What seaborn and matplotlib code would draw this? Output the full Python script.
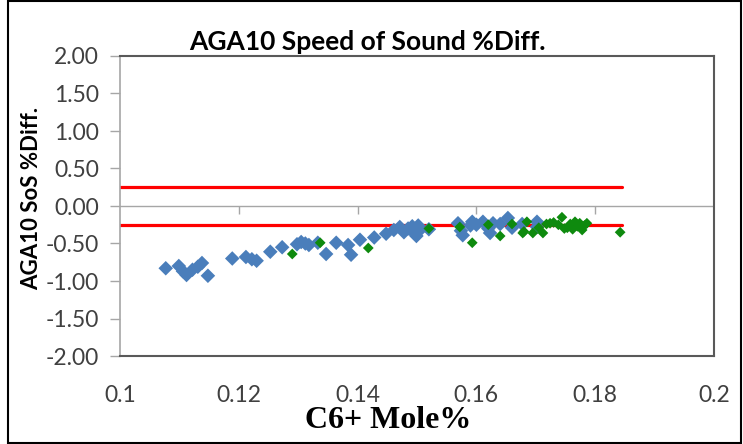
import matplotlib
matplotlib.use("Agg")
import matplotlib.pyplot as plt
from matplotlib.patches import Rectangle
import seaborn as sns
import pandas as pd

# ---------------- data ----------------
blue_x = [0.1077, 0.1099, 0.1106, 0.1112, 0.1122, 0.1131, 0.1138, 0.1148,
          0.1189, 0.1212, 0.1222, 0.1230, 0.1253, 0.1273, 0.1298, 0.1305,
          0.1312, 0.1318, 0.1333, 0.1347, 0.1364, 0.1384, 0.1389, 0.1404,
          0.1428, 0.1448, 0.1461, 0.1471, 0.1478, 0.1485, 0.1492, 0.1495,
          0.1499, 0.1505, 0.1502, 0.1520, 0.1569, 0.1577, 0.1574, 0.1593,
          0.1590, 0.1600, 0.1611, 0.1623, 0.1628, 0.1620, 0.1640, 0.1653,
          0.1660, 0.1677, 0.1702, 0.1702]
blue_y = [-0.83, -0.80, -0.87, -0.92, -0.85, -0.81, -0.76, -0.93,
          -0.70, -0.68, -0.71, -0.73, -0.61, -0.55, -0.51, -0.48,
          -0.50, -0.52, -0.49, -0.64, -0.49, -0.52, -0.65, -0.45,
          -0.42, -0.37, -0.32, -0.28, -0.35, -0.30, -0.27, -0.36,
          -0.40, -0.32, -0.26, -0.31, -0.23, -0.39, -0.33, -0.21,
          -0.26, -0.25, -0.21, -0.36, -0.23, -0.30, -0.24, -0.16,
          -0.29, -0.24, -0.21, -0.28]

green_x = [0.1290, 0.1337, 0.1418, 0.1520, 0.1572, 0.1593, 0.1620, 0.1640,
           0.1660, 0.1678, 0.1685, 0.1680, 0.1695, 0.1705, 0.1712, 0.1718,
           0.1724, 0.1730, 0.1738, 0.1744, 0.1748, 0.1753, 0.1758, 0.1762,
           0.1766, 0.1770, 0.1774, 0.1778, 0.1782, 0.1786, 0.1842]
green_y = [-0.64, -0.49, -0.56, -0.30, -0.28, -0.49, -0.25, -0.40,
           -0.24, -0.36, -0.21, -0.34, -0.36, -0.29, -0.36, -0.24,
           -0.23, -0.22, -0.25, -0.15, -0.30, -0.29, -0.24, -0.31,
           -0.21, -0.27, -0.23, -0.32, -0.26, -0.23, -0.35]

limit_x = [0.1, 0.1845]
upper_limit = [0.25, 0.25]
lower_limit = [-0.25, -0.25]

x_ticks = [0.1, 0.12, 0.14, 0.16, 0.18, 0.2]
x_tick_labels = ["0.1", "0.12", "0.14", "0.16", "0.18", "0.2"]
y_ticks = [2.0, 1.5, 1.0, 0.5, 0.0, -0.5, -1.0, -1.5, -2.0]
y_tick_labels = ["2.00", "1.50", "1.00", "0.50", "0.00", "-0.50", "-1.00", "-1.50", "-2.00"]

title = "AGA10 Speed of Sound %Diff."
x_label = "C6+ Mole%"
y_label = "AGA10 SoS %Diff."

# ---------------- plot ----------------
sns.set_theme(style="white")
plt.rcParams['font.family'] = ['Lato', 'DejaVu Sans']

fig = plt.figure(figsize=(7.43, 4.44), dpi=100)
ax = fig.add_axes([120 / 743, 1 - 356 / 444, 594 / 743, 300 / 444])

df_blue = pd.DataFrame({"x": blue_x, "y": blue_y})
df_green = pd.DataFrame({"x": green_x, "y": green_y})

ax.plot(limit_x, upper_limit, color="#FF0000", lw=2.3, zorder=2)
ax.plot(limit_x, lower_limit, color="#FF0000", lw=2.3, zorder=2)

sns.scatterplot(data=df_blue, x="x", y="y", marker="D", s=55, color="#4A7EBB",
                edgecolor="none", ax=ax, zorder=3)
sns.scatterplot(data=df_green, x="x", y="y", marker="D", s=30, color="#0E8A0E",
                edgecolor="none", ax=ax, zorder=4)

ax.set_xlim(0.1, 0.2)
ax.set_ylim(-2.0, 2.0)

# horizontal axis at y = 0 with downward tick marks
ax.axhline(0, color="#A6A6A6", lw=1.0, zorder=1)
ax.vlines(x_ticks[1:-1], -0.11, 0, color="#A6A6A6", lw=1.0, zorder=1)

ax.set_xticks(x_ticks)
ax.set_xticklabels(x_tick_labels)
ax.set_yticks(y_ticks)
ax.set_yticklabels(y_tick_labels)

ax.tick_params(axis="x", length=0, pad=21, labelsize=16.5, labelcolor="#404040")
ax.tick_params(axis="y", length=7, width=1, color="#A6A6A6", direction="out",
               pad=8, labelsize=16.5, labelcolor="#404040", left=True)

for side in ["top", "right", "bottom"]:
    ax.spines[side].set_color("#595959")
    ax.spines[side].set_linewidth(1.5)
ax.spines["left"].set_color("#A6A6A6")
ax.spines["left"].set_linewidth(1.2)

ax.set_xlabel("")
ax.set_ylabel("")
fig.text(32 / 743, 1 - 198 / 444, y_label, ha="center", va="center",
         rotation=90, fontsize=16, fontweight="bold", color="black")

fig.text(367 / 743, 1 - 42 / 444, title, ha="center", va="center",
         fontsize=19, fontweight="bold", color="black")
fig.text(388 / 743, 1 - 420 / 444, x_label, ha="center", va="center",
         fontsize=23, fontweight="bold", color="black",
         family=["Liberation Serif", "DejaVu Serif"])

# outer chart border
fig.patches.append(Rectangle((8 / 743, 1 / 444), 733 / 743, 442 / 444,
                             transform=fig.transFigure, fill=False,
                             edgecolor="black", lw=1.5))

fig.savefig("out.png", dpi=100)
